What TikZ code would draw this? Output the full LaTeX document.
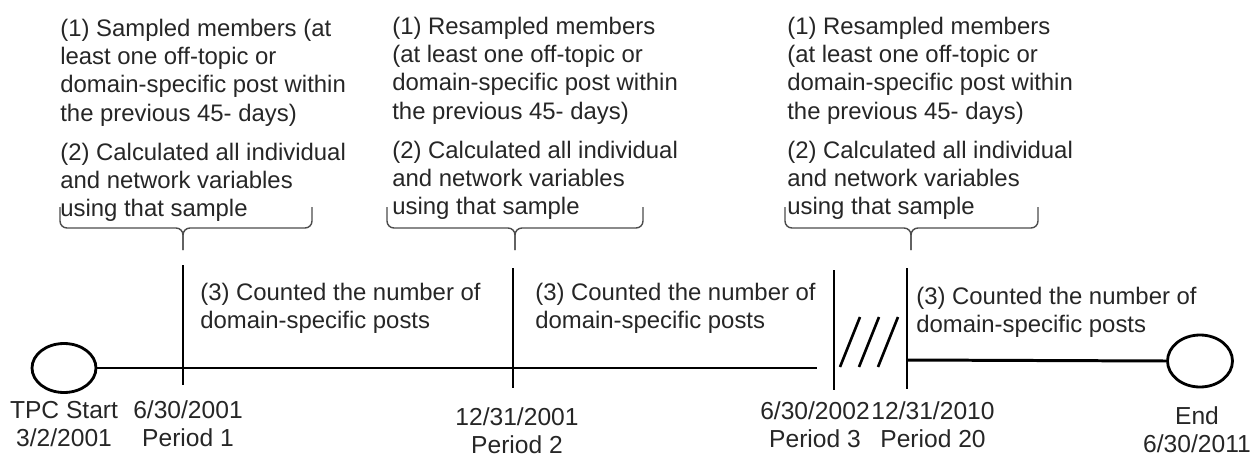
\documentclass[tikz,border=0pt]{standalone}
\usepackage{fontspec}
\setmainfont{Liberation Sans}
\usetikzlibrary{positioning,shapes.geometric}

\begin{document}
\begin{tikzpicture}[
  x=0.02cm, y=-0.02cm,
  txt/.style={align=left, inner sep=0pt, font=\fontsize{13.6}{16}\selectfont, text=black!85},
  lab/.style={align=center, inner sep=0pt, font=\fontsize{14}{16}\selectfont, text=black!85},
  endpt/.style={draw, ellipse, line width=1.6pt, minimum width=1.28cm, minimum height=0.98cm},
  axis/.style={line width=1.7pt},
  tick/.style={line width=1.7pt},
  brc/.style={line width=0.8pt, draw=black!70, rounded corners=0.14cm}
]
  \useasboundingbox (0,0) rectangle (1259,457);

  % top notes
  \node[txt, anchor=north west] (n1) at (60,19) {(1) Sampled members (at\\least one off-topic or\\domain-specific post within\\the previous 45- days)\\[0.22cm](2) Calculated all individual\\and network variables\\using that sample};
  \node[txt, anchor=north west] (n2) at (392,17) {(1) Resampled members\\(at least one off-topic or\\domain-specific post within\\the previous 45- days)\\[0.22cm](2) Calculated all individual\\and network variables\\using that sample};
  \node[txt, anchor=north west] (n3) at (787,17) {(1) Resampled members\\(at least one off-topic or\\domain-specific post within\\the previous 45- days)\\[0.22cm](2) Calculated all individual\\and network variables\\using that sample};

  % braces
  \draw[brc] (60,207) |- (183,228) -- (183,250);
  \draw[brc] (312,207) |- (183,228) -- (183,250);
  \draw[brc] (387,207) |- (515,228) -- (515,250);
  \draw[brc] (643,207) |- (515,228) -- (515,250);
  \draw[brc] (785,207) |- (911,228) -- (911,250);
  \draw[brc] (1038,207) |- (911,228) -- (911,250);

  % timeline
  \node[endpt] (start) at (64,368) {};
  \node[endpt, minimum width=1.3cm, minimum height=1.04cm] (end) at (1200,361) {};
  \coordinate (brk) at (817,368);
  \coordinate (p20) at (907,360);
  \draw[axis] (start.east) -- (brk);
  \draw[axis] (p20) -- (end.west);

  \draw[tick] (183,265) -- (183,385);
  \draw[tick] (513,268) -- (513,388);
  \draw[tick] (834,270) -- (834,390);
  \draw[tick] (907,268) -- (907,389);
  \foreach \i in {0,19,38}
    \draw[line width=1.5pt] (840+\i,367) -- (860+\i,317);

  % counting notes
  \node[txt, anchor=west] (c1) at (200,308) {(3) Counted the number of\\domain-specific posts};
  \node[txt, anchor=west] (c2) at (535,308) {(3) Counted the number of\\domain-specific posts};
  \node[txt, anchor=west] (c3) at (916,312) {(3) Counted the number of\\domain-specific posts};

  % dates
  \node[lab] (l0) at (64,424) {TPC Start\\3/2/2001};
  \node[lab] (l1) at (188,424) {6/30/2001\\Period 1};
  \node[lab] (l2) at (517,431) {12/31/2001\\Period 2};
  \node[lab] (l3) at (815,425) {6/30/2002\\Period 3};
  \node[lab] (l20) at (933,425) {12/31/2010\\Period 20};
  \node[lab] (le) at (1197,430) {End\\6/30/2011};
\end{tikzpicture}
\end{document}
